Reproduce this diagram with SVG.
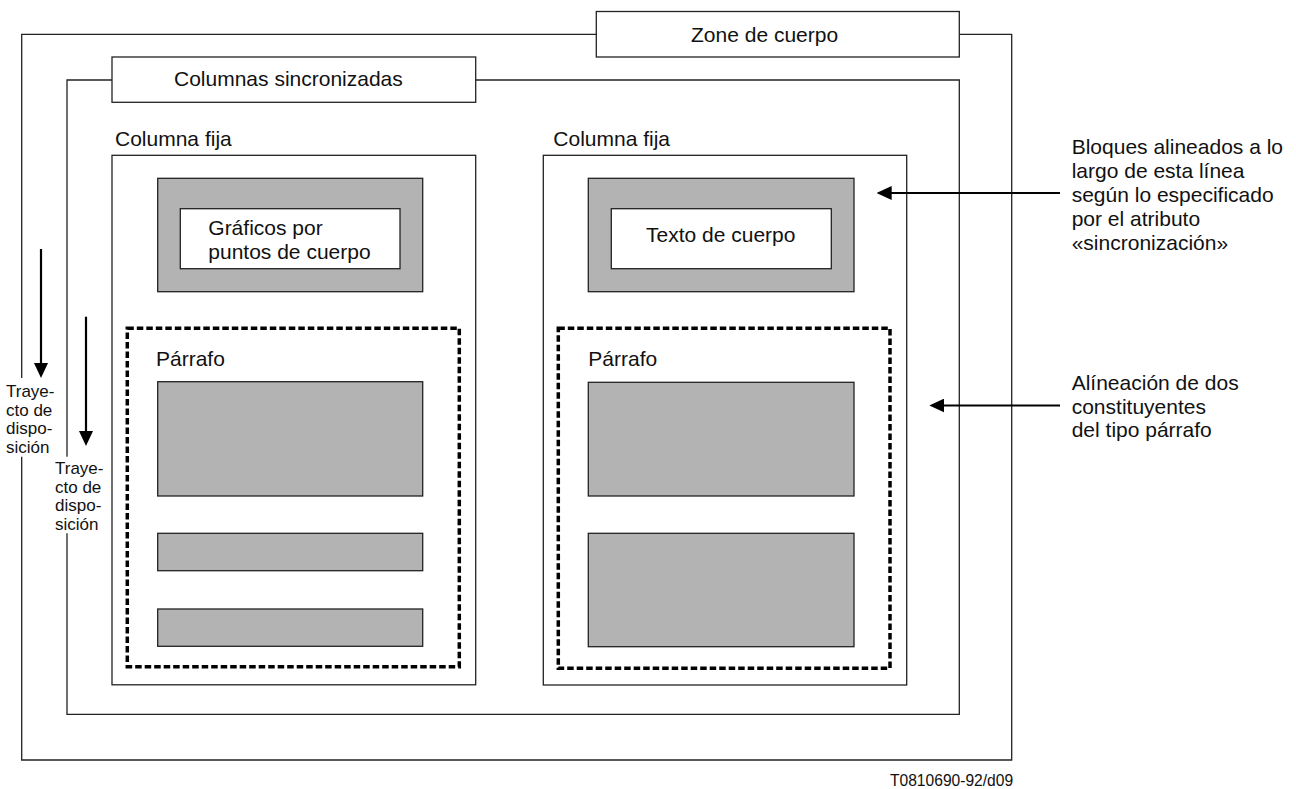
<svg xmlns="http://www.w3.org/2000/svg" width="1296" height="789" viewBox="0 0 1296 789">
<style>
.t{font-family:"Liberation Sans",Arial,sans-serif;font-size:21px;fill:#111}
.s{font-family:"Liberation Sans",Arial,sans-serif;font-size:17px;fill:#111}
.f{font-family:"Liberation Sans",Arial,sans-serif;font-size:15.6px;fill:#111}
.frame{fill:none;stroke:#222;stroke-width:1.3}
.box{fill:#fff;stroke:#222;stroke-width:1.3}
.gray{fill:#b3b3b3;stroke:#222;stroke-width:1.3}
.dash{fill:none;stroke:#000;stroke-width:3.5;stroke-dasharray:6.5 3}
.arr{stroke:#000;stroke-width:2.2;fill:none;marker-end:url(#ah)}
</style>
<defs>
<marker id="ah" markerWidth="15" markerHeight="14" refX="3" refY="7" orient="auto" markerUnits="userSpaceOnUse">
<path d="M0,0 L15,7 L0,14 z" fill="#000"/>
</marker>
</defs>
<rect width="1296" height="789" fill="#fff"/>

<g id="zona-cuerpo">
<path class="frame" d="M21.7,378 V34.3 H1011.7 V760 H21.7 V456.7"/>
<rect class="box" x="596.3" y="11.5" width="363" height="45.5"/>
<text class="t" x="691" y="41.5">Zone de cuerpo</text>
</g>

<g id="columnas-sincronizadas">
<path class="frame" d="M67,456.7 V80 H959.3 V714.3 H67 V533.3"/>
<rect class="box" x="112" y="57" width="363.7" height="45.3"/>
<text class="t" x="174" y="86">Columnas sincronizadas</text>
</g>

<g id="columna-fija-1">
<text class="t" x="115" y="146">Columna fija</text>
<rect class="frame" x="112" y="155.3" width="363.7" height="529.5"/>
<g id="graficos">
<rect class="gray" x="157.7" y="178.3" width="265" height="113.4"/>
<rect class="box" x="180.3" y="208.7" width="219.7" height="60"/>
<text class="t" x="208.3" y="235">Gráficos por</text>
<text class="t" x="208.3" y="259">puntos de cuerpo</text>
</g>
<g id="parrafo-1">
<rect class="dash" x="127.3" y="328.3" width="332" height="338.4"/>
<text class="t" x="156" y="366">Párrafo</text>
<rect class="gray" x="157.7" y="381.7" width="265" height="114.3"/>
<rect class="gray" x="157.7" y="533.3" width="265" height="37.4"/>
<rect class="gray" x="157.7" y="609" width="265" height="37.3"/>
</g>
</g>

<g id="columna-fija-2">
<text class="t" x="553.3" y="146">Columna fija</text>
<rect class="frame" x="543.3" y="155.3" width="363.4" height="529.7"/>
<g id="texto-cuerpo">
<rect class="gray" x="588.3" y="178.3" width="265.7" height="113.4"/>
<rect class="box" x="611.3" y="208.7" width="220" height="60"/>
<text class="t" x="646" y="242">Texto de cuerpo</text>
</g>
<g id="parrafo-2">
<rect class="dash" x="558.3" y="328.3" width="331.7" height="340"/>
<text class="t" x="588.3" y="366">Párrafo</text>
<rect class="gray" x="588.3" y="382.3" width="265.7" height="113.7"/>
<rect class="gray" x="588.3" y="533.3" width="265.7" height="113.4"/>
</g>
</g>

<g id="connectors">
<line class="arr" x1="41" y1="249" x2="41" y2="366"/>
<line class="arr" x1="86" y1="316.7" x2="86" y2="434"/>
<line class="arr" x1="1060" y1="193" x2="888.7" y2="193"/>
<line class="arr" x1="1060" y1="405.5" x2="941.3" y2="405.5"/>
</g>

<g id="trayecto-1">
<text class="s" x="6" y="397">Traye-</text>
<text class="s" x="6" y="415.5">cto de</text>
<text class="s" x="6" y="434">dispo-</text>
<text class="s" x="6" y="452.5">sición</text>
</g>
<g id="trayecto-2">
<text class="s" x="55" y="474">Traye-</text>
<text class="s" x="55" y="492.5">cto de</text>
<text class="s" x="55" y="511">dispo-</text>
<text class="s" x="55" y="529.5">sición</text>
</g>

<g id="nota-bloques">
<text class="t" x="1071.7" y="153.5">Bloques alineados a lo</text>
<text class="t" x="1071.7" y="177.5">largo de esta línea</text>
<text class="t" x="1071.7" y="201.5">según lo especificado</text>
<text class="t" x="1071.7" y="225.5">por el atributo</text>
<text class="t" x="1071.7" y="249.5">«sincronización»</text>
</g>
<g id="nota-alineacion">
<text class="t" x="1071.7" y="390">Alíneación de dos</text>
<text class="t" x="1071.7" y="413.5">constituyentes</text>
<text class="t" x="1071.7" y="437">del tipo párrafo</text>
</g>

<text class="f" x="890" y="786">T0810690-92/d09</text>
</svg>
